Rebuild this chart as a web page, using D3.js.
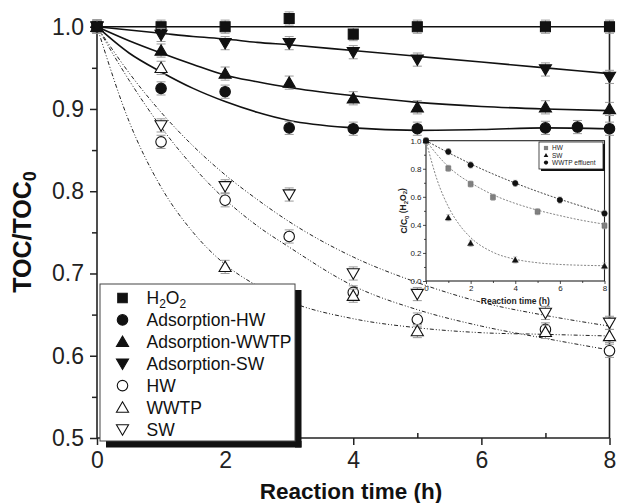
<!DOCTYPE html>
<html>
<head>
<meta charset="utf-8">
<script src="https://cdn.jsdelivr.net/npm/d3@7"></script>
<style>
body { margin: 0; background: #fff; }
text { font-family: "Liberation Sans", Arial, Helvetica, sans-serif; }
</style>
</head>
<body>
<svg id="chart" width="617" height="503"></svg>
<script>
// ---- main chart data (TOC/TOC0) ----
var times = [0, 1, 2, 3, 4, 5, 7, 8];
var h2o2 = [1.0, 1.0, 1.0, 1.01, 0.991, 1.0, 1.0, 1.0];
var adsHWTimes = [0, 1, 2, 3, 4, 5, 7, 7.5, 8];
var adsHW = [1.0, 0.925, 0.921, 0.877, 0.876, 0.876, 0.877, 0.878, 0.876];
var adsWWTP = [1.0, 0.971, 0.943, 0.932, 0.913, 0.902, 0.902, 0.900];
var adsSW = [1.0, 0.990, 0.980, 0.980, 0.969, 0.960, 0.948, 0.939];
var hw = [1.0, 0.860, 0.789, 0.745, 0.677, 0.644, 0.632, 0.606];
var wwtpTimes = [0, 1, 2, 4, 5, 7, 8];
var wwtp = [1.0, 0.950, 0.708, 0.673, 0.630, 0.629, 0.624];
var sw = [1.0, 0.880, 0.806, 0.796, 0.700, 0.675, 0.652, 0.640];
var errMain = 0.008;

// fitted curves
var fitX = [0, 0.5, 1, 1.5, 2, 2.5, 3, 4, 5, 6, 7, 8];
var fitH2O2 = [1, 1, 1, 1, 1, 1, 1, 1, 1, 1, 1, 1];
var fitAdsHW = [1.0, 0.968, 0.945, 0.925, 0.909, 0.896, 0.886, 0.877, 0.874, 0.875, 0.877, 0.876];
var fitAdsWWTP = [1.0, 0.983, 0.968, 0.954, 0.941, 0.933, 0.926, 0.916, 0.908, 0.903, 0.900, 0.898];
var fitAdsSW = [1.0, 0.996, 0.992, 0.988, 0.985, 0.981, 0.978, 0.971, 0.964, 0.957, 0.950, 0.943];
var fitHW = [1.0, 0.935, 0.878, 0.830, 0.790, 0.758, 0.732, 0.685, 0.656, 0.636, 0.621, 0.607];
var fitWWTP = [1.0, 0.885, 0.805, 0.750, 0.711, 0.685, 0.666, 0.645, 0.634, 0.628, 0.626, 0.624];
var fitSW = [1.0, 0.944, 0.896, 0.855, 0.820, 0.790, 0.763, 0.720, 0.689, 0.665, 0.649, 0.636];

var yTicks = [0.5, 0.6, 0.7, 0.8, 0.9, 1.0];
var xTicks = [0, 2, 4, 6, 8];

// ---- inset data (C/C0 H2O2) ----
var insetHWx = [0, 1, 2, 3, 5, 8];
var insetHW = [1.0, 0.803, 0.691, 0.597, 0.494, 0.394];
var insetSWx = [0, 1, 2, 4, 8];
var insetSW = [1.0, 0.451, 0.269, 0.150, 0.107];
var insetWWTPx = [0, 1, 2, 4, 6, 8];
var insetWWTP = [1.0, 0.922, 0.827, 0.696, 0.577, 0.482];
var insetFitX = [0, 0.5, 1, 1.5, 2, 3, 4, 5, 6, 7, 8];
var insetFitHW = [1.0, 0.90, 0.815, 0.75, 0.70, 0.615, 0.553, 0.505, 0.466, 0.432, 0.405];
var insetFitSW = [1.0, 0.72, 0.53, 0.40, 0.31, 0.205, 0.155, 0.130, 0.118, 0.112, 0.109];
var insetFitWWTP = [1.0, 0.957, 0.915, 0.875, 0.835, 0.763, 0.698, 0.638, 0.583, 0.532, 0.485];
var insetYTicks = [0.0, 0.2, 0.4, 0.6, 0.8, 1.0];
var insetXTicks = [0, 2, 4, 6, 8];

var svg = d3.select("#chart");

var x = d3.scaleLinear().domain([0, 8]).range([97, 609.5]);
var y = d3.scaleLinear().domain([0.5, 1.0]).range([438, 26.7]);

function pairs(xs, ys) {
  return xs.map(function(d, i) { return [d, ys[i]]; });
}

// symbol paths (centered at 0,0)
function markerPath(type, s) {
  var h = s / 2;
  if (type == "square") return "M" + (-h) + "," + (-h) + "h" + s + "v" + s + "h" + (-s) + "Z";
  if (type == "circle") return d3.symbol(d3.symbolCircle, Math.PI * h * h)();
  if (type == "up") return "M0," + (-h * 1.05) + "L" + (h * 1.1) + "," + (h * 0.85) + "L" + (-h * 1.1) + "," + (h * 0.85) + "Z";
  if (type == "down") return "M0," + (h * 1.05) + "L" + (h * 1.1) + "," + (-h * 0.85) + "L" + (-h * 1.1) + "," + (-h * 0.85) + "Z";
}

// ---- axes ----
var axisColor = "#222";

var yAxis = svg.append("g")
  .attr("transform", "translate(97,0)")
  .call(d3.axisLeft(y).tickValues(yTicks).tickFormat(d3.format(".1f")).tickSize(7).tickPadding(6));
var yMinor = svg.append("g")
  .attr("transform", "translate(97,0)")
  .call(d3.axisLeft(y).tickValues([0.55, 0.65, 0.75, 0.85, 0.95]).tickFormat("").tickSize(5));

var xAxis = svg.append("g")
  .attr("transform", "translate(0,438)")
  .call(d3.axisBottom(x).tickValues(xTicks).tickFormat(d3.format("d")).tickSize(7).tickPadding(7));
var xMinor = svg.append("g")
  .attr("transform", "translate(0,438)")
  .call(d3.axisBottom(x).tickValues([1, 3, 5, 7]).tickSize(-5).tickFormat(""));

[yAxis, yMinor, xAxis, xMinor].forEach(function(g) {
  g.select(".domain").remove();
  g.selectAll("line").attr("stroke", axisColor).attr("stroke-width", 1.5);
  g.selectAll("text").attr("font-size", 23).attr("fill", "#222")
    .style("font-family", '"Liberation Sans", Arial, sans-serif');
});

svg.append("line").attr("x1", 97).attr("x2", 97).attr("y1", y(1.0)).attr("y2", 438)
  .attr("stroke", axisColor).attr("stroke-width", 1.6);
svg.append("line").attr("x1", 97).attr("x2", x(8)).attr("y1", 438).attr("y2", 438)
  .attr("stroke", axisColor).attr("stroke-width", 1.6);
svg.append("line").attr("x1", x(8)).attr("x2", x(8)).attr("y1", y(1.0)).attr("y2", 438)
  .attr("stroke", axisColor).attr("stroke-width", 1.6);

// axis titles
var yt = svg.append("text")
  .attr("transform", "translate(31,232) rotate(-90)")
  .attr("text-anchor", "middle")
  .attr("font-size", 25).attr("font-weight", "bold").attr("fill", "#111");
yt.append("tspan").text("TOC/TOC");
yt.append("tspan").attr("font-size", 18).attr("dy", "0.3em").text("0");

svg.append("text")
  .attr("x", 351).attr("y", 499)
  .attr("text-anchor", "middle")
  .attr("font-size", 22.5).attr("font-weight", "bold").attr("fill", "#111")
  .text("Reaction time (h)");

// ---- fit lines ----
var line = d3.line()
  .x(function(d) { return x(d[0]); })
  .y(function(d) { return y(d[1]); })
  .curve(d3.curveMonotoneX);

var solidFits = [fitH2O2, fitAdsHW, fitAdsWWTP, fitAdsSW];
svg.selectAll(".solidFit")
  .data(solidFits).enter()
  .append("path")
  .attr("class", "solidFit")
  .attr("d", function(d) { return line(pairs(fitX, d)); })
  .attr("fill", "none").attr("stroke", "#111").attr("stroke-width", 1.6);

var dashFits = [fitHW, fitWWTP, fitSW];
svg.selectAll(".dashFit")
  .data(dashFits).enter()
  .append("path")
  .attr("class", "dashFit")
  .attr("d", function(d) { return line(pairs(fitX, d)); })
  .attr("fill", "none").attr("stroke", "#222").attr("stroke-width", 1)
  .attr("stroke-dasharray", "4,2,1,2,1,2");

// ---- inset ----
var ix = d3.scaleLinear().domain([0, 8]).range([426, 604.5]);
var iy = d3.scaleLinear().domain([0, 1]).range([281, 140.7]);

svg.append("rect")
  .attr("x", ix(0)).attr("y", iy(1)).attr("width", ix(8) - ix(0)).attr("height", iy(0) - iy(1))
  .attr("fill", "#fff").attr("stroke", "#222").attr("stroke-width", 1.1);

var iyAxis = svg.append("g").attr("transform", "translate(" + ix(0) + ",0)")
  .call(d3.axisLeft(iy).tickValues(insetYTicks).tickFormat(d3.format(".1f")).tickSize(3).tickPadding(1.5));
var iyMinor = svg.append("g").attr("transform", "translate(" + ix(0) + ",0)")
  .call(d3.axisLeft(iy).tickValues([0.1, 0.3, 0.5, 0.7, 0.9]).tickFormat("").tickSize(2));
var ixAxis = svg.append("g").attr("transform", "translate(0," + iy(0) + ")")
  .call(d3.axisBottom(ix).tickValues(insetXTicks).tickFormat(d3.format("d")).tickSize(3).tickPadding(1.5));
var ixMinor = svg.append("g").attr("transform", "translate(0," + iy(0) + ")")
  .call(d3.axisBottom(ix).tickValues([1, 3, 5, 7]).tickFormat("").tickSize(2));
[iyAxis, iyMinor, ixAxis, ixMinor].forEach(function(g) {
  g.select(".domain").remove();
  g.selectAll("line").attr("stroke", "#222").attr("stroke-width", 0.8);
  g.selectAll("text").attr("font-size", 8).attr("fill", "#222")
    .style("font-family", '"Liberation Sans", Arial, sans-serif');
});

var iyt = svg.append("text")
  .attr("transform", "translate(407," + ((iy(0) + iy(1)) / 2) + ") rotate(-90)")
  .attr("text-anchor", "middle")
  .attr("font-size", 8.5).attr("font-weight", "bold").attr("fill", "#222");
iyt.append("tspan").text("C/C");
iyt.append("tspan").attr("font-size", 6).attr("dy", "0.3em").text("0");
iyt.append("tspan").attr("dy", "-0.3em").text(" (H");
iyt.append("tspan").attr("font-size", 6).attr("dy", "0.3em").text("2");
iyt.append("tspan").attr("dy", "-0.3em").text("O");
iyt.append("tspan").attr("font-size", 6).attr("dy", "0.3em").text("2");
iyt.append("tspan").attr("dy", "-0.3em").text(")");

svg.append("text")
  .attr("x", (ix(0) + ix(8)) / 2).attr("y", 304)
  .attr("text-anchor", "middle")
  .attr("font-size", 8.5).attr("font-weight", "bold").attr("fill", "#222")
  .text("Reaction time (h)");

var iline = d3.line()
  .x(function(d) { return ix(d[0]); })
  .y(function(d) { return iy(d[1]); })
  .curve(d3.curveMonotoneX);

var insetFits = [
  { v: insetFitHW, c: "#777" },
  { v: insetFitSW, c: "#777" },
  { v: insetFitWWTP, c: "#333" }
];
svg.selectAll(".insetFit")
  .data(insetFits).enter()
  .append("path")
  .attr("class", "insetFit")
  .attr("d", function(d) { return iline(pairs(insetFitX, d.v)); })
  .attr("fill", "none").attr("stroke", function(d) { return d.c; })
  .attr("stroke-width", 0.9).attr("stroke-dasharray", "2,1.5");

var insetSeries = [
  { xs: insetHWx, ys: insetHW, type: "square", fill: "#808080", size: 5 },
  { xs: insetSWx, ys: insetSW, type: "up", fill: "#111", size: 5.5 },
  { xs: insetWWTPx, ys: insetWWTP, type: "circle", fill: "#111", size: 5.5 }
];
insetSeries.forEach(function(s) {
  var pts = pairs(s.xs, s.ys);
  var g = svg.append("g");
  g.selectAll("path.err").data(pts).enter().append("path")
    .attr("class", "err")
    .attr("d", function(d) {
      var cx = ix(d[0]), t = iy(d[1] + 0.022), b = iy(d[1] - 0.022);
      return "M" + (cx - 2) + "," + t + "h4M" + cx + "," + t + "V" + b + "M" + (cx - 2) + "," + b + "h4";
    })
    .attr("stroke", "#aaa").attr("stroke-width", 0.7).attr("fill", "none");
  g.selectAll("path.mk").data(pts).enter().append("path")
    .attr("class", "mk")
    .attr("d", markerPath(s.type, s.size))
    .attr("transform", function(d) { return "translate(" + ix(d[0]) + "," + iy(d[1]) + ")"; })
    .attr("fill", s.fill).attr("stroke", s.type == "square" ? "#666" : "#111").attr("stroke-width", 0.5);
});

// inset legend
var insetNames = ["HW", "SW", "WWTP effluent"];
svg.append("rect").attr("x", 541).attr("y", 144).attr("width", 64).attr("height", 27).attr("fill", "#111");
svg.append("rect").attr("x", 539).attr("y", 142).attr("width", 64).attr("height", 27)
  .attr("fill", "#fff").attr("stroke", "#222").attr("stroke-width", 0.8);
var il = svg.selectAll(".insetLegend")
  .data(insetNames).enter()
  .append("g")
  .attr("class", "insetLegend")
  .attr("transform", function(d, i) { return "translate(546," + (148 + i * 7.3) + ")"; });
il.append("path")
  .attr("d", function(d, i) { return markerPath(insetSeries[i].type, 4.2); })
  .attr("fill", function(d, i) { return insetSeries[i].fill; });
il.append("text")
  .attr("x", 6).attr("y", 2.3)
  .attr("font-size", 6.5).attr("fill", "#222")
  .text(function(d) { return d; });

// ---- main markers ----
var mainSeries = [
  { xs: times, ys: h2o2, type: "square", fill: "#111", size: 10 },
  { xs: adsHWTimes, ys: adsHW, type: "circle", fill: "#111", size: 10.5 },
  { xs: times, ys: adsWWTP, type: "up", fill: "#111", size: 11 },
  { xs: times, ys: adsSW, type: "down", fill: "#111", size: 11 },
  { xs: times, ys: hw, type: "circle", fill: "#fff", size: 10.5 },
  { xs: wwtpTimes, ys: wwtp, type: "up", fill: "#fff", size: 11 },
  { xs: times, ys: sw, type: "down", fill: "#fff", size: 11 }
];

// open symbols first so the filled ones sit on top at t = 0
var drawOrder = [4, 5, 6, 0, 1, 2, 3];
drawOrder.forEach(function(k) {
  var s = mainSeries[k];
  var pts = pairs(s.xs, s.ys);
  var g = svg.append("g");
  g.selectAll("path.err").data(pts).enter().append("path")
    .attr("class", "err")
    .attr("d", function(d) {
      var cx = x(d[0]), t = y(d[1] + errMain), b = y(d[1] - errMain);
      return "M" + (cx - 4.5) + "," + t + "h9M" + cx + "," + t + "V" + b + "M" + (cx - 4.5) + "," + b + "h9";
    })
    .attr("stroke", "#9a9a9a").attr("stroke-width", 1).attr("fill", "none");
  g.selectAll("path.mk").data(pts).enter().append("path")
    .attr("class", "mk")
    .attr("d", markerPath(s.type, s.size))
    .attr("transform", function(d) { return "translate(" + x(d[0]) + "," + y(d[1]) + ")"; })
    .attr("fill", s.fill).attr("stroke", "#111").attr("stroke-width", 1.1);
});

// ---- main legend ----
var names = ["H2O2", "Adsorption-HW", "Adsorption-WWTP", "Adsorption-SW", "HW", "WWTP", "SW"];
svg.append("rect").attr("x", 295).attr("y", 290).attr("width", 6.5).attr("height", 157.5).attr("fill", "#111");
svg.append("rect").attr("x", 106).attr("y", 441).attr("width", 195.5).attr("height", 6.5).attr("fill", "#111");
svg.append("rect").attr("x", 100).attr("y", 284).attr("width", 195).attr("height", 157)
  .attr("fill", "#fff").attr("stroke", "#444").attr("stroke-width", 1);

var legend = svg.selectAll(".legend")
  .data(names).enter()
  .append("g")
  .attr("class", "legend")
  .attr("transform", function(d, i) { return "translate(0," + (298 + i * 21.9) + ")"; });

legend.append("path")
  .attr("d", function(d, i) { return markerPath(mainSeries[i].type, i == 0 ? 9.5 : mainSeries[i].size); })
  .attr("transform", "translate(122.5,0)")
  .attr("fill", function(d, i) { return mainSeries[i].fill; })
  .attr("stroke", "#111").attr("stroke-width", 1.1);

legend.each(function(d, i) {
  var t = d3.select(this).append("text")
    .attr("x", 146.5).attr("y", 6.3)
    .attr("font-size", 17.5).attr("fill", "#111");
  if (i == 0) {
    t.append("tspan").text("H");
    t.append("tspan").attr("font-size", 12).attr("dy", 4).text("2");
    t.append("tspan").attr("dy", -4).text("O");
    t.append("tspan").attr("font-size", 12).attr("dy", 4).text("2");
  } else {
    t.text(d);
  }
});
</script>
</body>
</html>
